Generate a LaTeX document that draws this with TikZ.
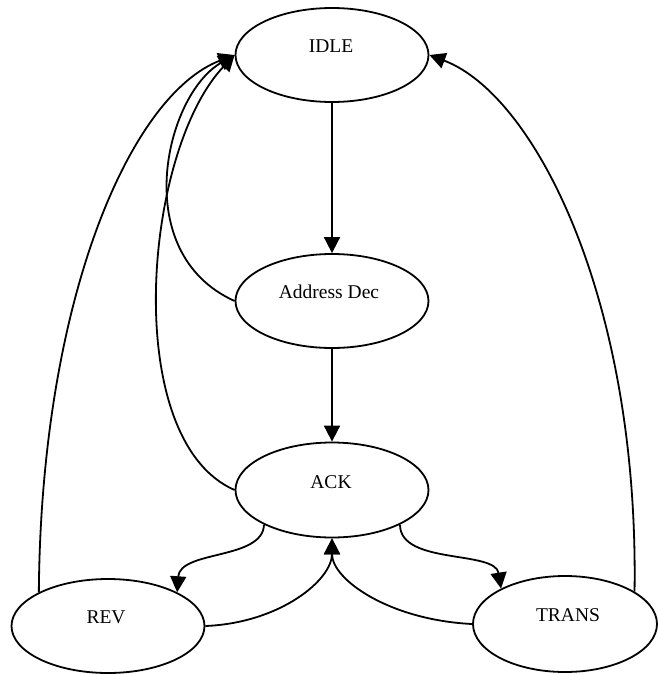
\documentclass[tikz,border=0pt]{standalone}
\usepackage{fontspec}
\setmainfont{Liberation Serif}
\usetikzlibrary{shapes.geometric,arrows.meta}
\begin{document}
\begin{tikzpicture}[x=1pt,y=-1pt,
  state/.style={draw, ellipse, line width=1.8pt, minimum width=193pt, minimum height=94pt, inner sep=0pt},
  lbl/.style={inner sep=0pt, font=\fontsize{19.5}{23}\selectfont},
  edge/.style={line width=1.8pt, -{Triangle[length=16pt,width=16pt]}}]
\useasboundingbox (0,0) rectangle (658,675);
% states
\node[state] (idle) at (332,55) {};
\node[state] (adec) at (332,301) {};
\node[state, minimum height=95pt] (ack) at (332,490) {};
\node[state] (rev) at (108,626) {};
\node[state, minimum width=184pt, minimum height=96pt] (trans) at (565,624) {};
% labels
\node[lbl] (idletxt) at (331,46) {IDLE};
\node[lbl] (adectxt) at (329,292) {Address Dec};
\node[lbl] (acktxt) at (331,482) {ACK};
\node[lbl] (revtxt) at (106,617) {REV};
\node[lbl] (transtxt) at (568,615) {TRANS};
% connectors
\draw[edge] (idle.south) -- (adec.north);
\draw[edge] (adec.south) -- (ack.north);
\draw[edge] (adec.west) .. controls (128,253) and (165,95) .. (idle.west);
\draw[edge] (ack.west) .. controls (120,440) and (143,151) .. (idle.west);
\draw[edge] (rev.154) .. controls (41,300) and (130,95) .. (idle.west);
\draw[edge] (trans.25) .. controls (639,300) and (535,95) .. (idle.east);
\draw[edge] (ack.207) .. controls (263,560) and (180,550) .. (rev.26);
\draw[edge] (ack.333) .. controls (400,565) and (495,550) .. (trans.151);
\draw[edge] (rev.east) .. controls (280,623) and (332,580) .. (ack.south);
\draw[edge] (trans.west) .. controls (390,620) and (332,580) .. (ack.south);
\end{tikzpicture}
\end{document}
